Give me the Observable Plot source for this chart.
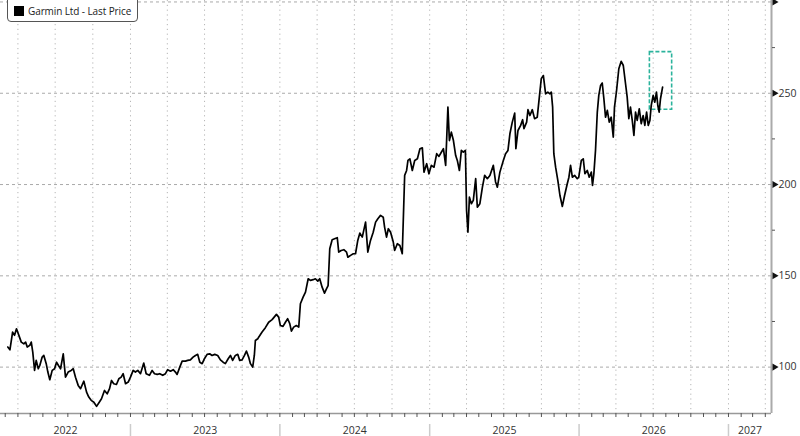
<!DOCTYPE html>
<html>
<head>
<meta charset="utf-8">
<script src="https://cdn.jsdelivr.net/npm/d3@7"></script>
<script src="https://cdn.jsdelivr.net/npm/@observablehq/plot@0.6"></script>
<style>
  body { margin: 0; background: #fff; }
  #chart { position: relative; width: 800px; height: 436px; overflow: hidden; }
  .legend {
    position: absolute; left: 7px; top: -6px; height: 28px;
    box-sizing: border-box; padding: 6px 6px 0 6px;
    border: 1px solid #555; border-radius: 4px; background: #fff;
    display: flex; align-items: center; gap: 4px;
    font: 10px "Open Sans", sans-serif; color: #222; letter-spacing: -0.1px;
  }
  .legend i { display: inline-block; width: 10px; height: 10px; background: #000; }
</style>
</head>
<body>
<div id="chart">
  <div class="legend"><i></i><span>Garmin Ltd - Last Price</span></div>
</div>
<script>
// dates as decimal years
const priceYears = [
  2022.179, 2022.193, 2022.211, 2022.224, 2022.237, 2022.253, 2022.269, 2022.286, 2022.298, 2022.309,
  2022.326, 2022.336, 2022.346, 2022.358, 2022.369, 2022.383, 2022.393, 2022.409, 2022.420, 2022.436,
  2022.447, 2022.460, 2022.476, 2022.492, 2022.505, 2022.518, 2022.532, 2022.550, 2022.565, 2022.583,
  2022.603, 2022.617, 2022.632, 2022.650, 2022.666, 2022.688, 2022.706, 2022.721, 2022.737, 2022.755,
  2022.773, 2022.791, 2022.806, 2022.826, 2022.844, 2022.860, 2022.873, 2022.888, 2022.906, 2022.922,
  2022.938, 2022.951, 2022.967, 2022.985,
  2023.000, 2023.018, 2023.033, 2023.049, 2023.067, 2023.089, 2023.105, 2023.127, 2023.145, 2023.161,
  2023.179, 2023.196, 2023.216, 2023.234, 2023.249, 2023.268, 2023.286, 2023.301, 2023.312, 2023.330,
  2023.346, 2023.368, 2023.383, 2023.401, 2023.419, 2023.435, 2023.450, 2023.464, 2023.480, 2023.495,
  2023.513, 2023.530, 2023.546, 2023.564, 2023.584, 2023.602, 2023.620, 2023.635, 2023.654, 2023.669,
  2023.684, 2023.702, 2023.718, 2023.731, 2023.747, 2023.763, 2023.776, 2023.791, 2023.803, 2023.818,
  2023.829, 2023.836, 2023.852, 2023.858, 2023.881, 2023.903, 2023.925, 2023.948, 2023.977, 2023.992,
  2024.003, 2024.021, 2024.037, 2024.052, 2024.066, 2024.077, 2024.092, 2024.110, 2024.126, 2024.137,
  2024.155, 2024.171, 2024.189, 2024.204, 2024.222, 2024.237, 2024.253, 2024.266, 2024.282, 2024.298,
  2024.311, 2024.322, 2024.333, 2024.349, 2024.365, 2024.383, 2024.393, 2024.409, 2024.427, 2024.445,
  2024.454, 2024.472, 2024.490, 2024.505, 2024.520, 2024.534, 2024.550, 2024.572, 2024.587, 2024.605,
  2024.623, 2024.639, 2024.654, 2024.672, 2024.690, 2024.699, 2024.712, 2024.724, 2024.739, 2024.757,
  2024.766, 2024.784, 2024.801, 2024.817, 2024.833, 2024.846, 2024.855, 2024.868, 2024.884, 2024.900,
  2024.918, 2024.935, 2024.951, 2024.962, 2024.980, 2024.995,
  2025.011, 2025.029, 2025.047, 2025.062, 2025.078, 2025.092, 2025.107, 2025.122, 2025.132, 2025.145,
  2025.159, 2025.174, 2025.185, 2025.199, 2025.212, 2025.225, 2025.239, 2025.247, 2025.256, 2025.266,
  2025.279, 2025.292, 2025.308, 2025.319, 2025.336, 2025.353, 2025.368, 2025.386, 2025.403, 2025.426,
  2025.441, 2025.453, 2025.470, 2025.493, 2025.508, 2025.524, 2025.537, 2025.553, 2025.569, 2025.577,
  2025.591, 2025.609, 2025.622, 2025.631, 2025.649, 2025.658, 2025.671, 2025.687, 2025.702, 2025.720,
  2025.734, 2025.747, 2025.761, 2025.776, 2025.791, 2025.805, 2025.814, 2025.823, 2025.831, 2025.843,
  2025.858, 2025.872, 2025.888, 2025.903, 2025.921, 2025.932, 2025.943, 2025.955, 2025.970, 2025.988,
  2025.998,
  2026.015, 2026.028, 2026.039, 2026.055, 2026.068, 2026.082, 2026.090, 2026.099, 2026.110, 2026.122,
  2026.132, 2026.144, 2026.155, 2026.166, 2026.177, 2026.189, 2026.202, 2026.215, 2026.229, 2026.237,
  2026.251, 2026.266, 2026.282, 2026.296, 2026.311, 2026.322, 2026.333, 2026.344, 2026.356, 2026.367,
  2026.378, 2026.389, 2026.403, 2026.416, 2026.429, 2026.440, 2026.452, 2026.463, 2026.474, 2026.483,
  2026.496, 2026.507, 2026.518, 2026.527, 2026.536, 2026.545, 2026.559
];
const prices = [
  111.0, 109.5, 119.2, 117.4, 121.0, 117.4, 113.7, 112.8, 113.7, 111.0,
  111.9, 113.7, 108.2, 98.2, 103.7, 99.1, 100.9, 105.5, 106.4, 101.9,
  97.3, 93.1, 98.2, 99.1, 102.7, 100.9, 99.1, 107.3, 94.5, 97.3,
  98.2, 99.1, 94.5, 90.0, 88.2, 92.3, 86.3, 83.6, 81.8, 80.8,
  78.5, 80.8, 82.7, 87.2, 85.4, 88.2, 92.7, 90.9, 90.5, 93.6,
  94.5, 96.4, 90.9, 91.8,
  94.5, 98.2, 97.3, 98.2, 96.4, 102.2, 96.4, 95.5, 98.2, 96.4,
  96.0, 96.4, 95.5, 96.4, 98.6, 97.8, 98.6, 97.3, 96.0, 100.0,
  103.3, 103.3, 103.7, 104.0, 105.5, 106.4, 107.0, 102.7, 101.9, 104.6,
  107.0, 107.3, 106.4, 107.0, 106.4, 104.0, 102.7, 101.9, 104.6, 106.4,
  103.7, 106.4, 107.0, 103.7, 104.0, 106.4, 108.8, 105.5, 101.9, 100.0,
  106.4, 114.6, 115.5, 116.4, 119.2, 121.6, 124.6, 126.0, 128.9, 127.4,
  122.8, 122.3, 124.6, 126.5, 123.8, 119.7, 121.9, 122.8, 121.9, 134.7,
  138.3, 141.1, 148.4, 147.5, 147.9, 148.4, 147.1, 148.4, 143.8, 140.5,
  142.9, 144.7, 164.8, 169.8, 170.3, 170.9, 163.0, 163.9, 164.3, 163.0,
  160.2, 161.2, 162.1, 162.1, 169.4, 173.4, 171.2, 179.4, 163.0, 169.4,
  173.9, 179.4, 181.3, 183.1, 182.1, 176.7, 171.2, 175.8, 173.9, 168.5,
  163.9, 167.6, 166.6, 162.1, 205.0, 207.7, 213.2, 214.1, 207.7, 213.2,
  214.1, 219.6, 220.1, 206.8, 211.4, 205.9,
  210.5, 209.5, 216.9, 215.4, 217.7, 219.6, 210.5, 242.4, 224.1, 228.7,
  224.1, 215.9, 213.2, 207.7, 218.7, 217.7, 218.7, 185.8, 173.9, 193.1,
  189.5, 191.3, 203.2, 187.6, 189.5, 198.6, 205.0, 203.2, 205.0, 210.5,
  201.4, 198.6, 206.8, 213.2, 216.9, 218.7, 227.8, 234.2, 239.1, 219.6,
  229.6, 232.4, 235.5, 230.6, 234.2, 241.0, 237.8, 241.0, 236.1, 236.9,
  247.9, 258.0, 259.7, 249.7, 250.6, 249.7, 250.6, 242.4, 216.9, 209.5,
  202.2, 194.0, 188.0, 194.0, 200.4, 204.0, 210.5, 204.0, 205.0, 203.2,
  204.0,
  213.2, 214.1, 205.9, 207.7, 204.0, 206.8, 199.5, 205.9, 218.7, 239.7,
  248.8, 254.3, 255.6, 247.0, 236.9, 240.6, 234.2, 236.9, 226.0, 242.4,
  251.5, 263.4, 267.5, 265.2, 255.2, 247.9, 236.1, 242.4, 235.1, 226.9,
  239.7, 235.1, 241.5, 233.3, 237.8, 232.4, 239.7, 232.4, 235.1, 243.3,
  248.8, 245.1, 250.6, 243.3, 239.7, 247.0, 253.4
];

// dashed teal box at the end of the series
const boxYears = [2026.474, 2026.623];
const boxPrices = [241.0, 272.5];

const majorTicks = [100, 150, 200, 250, 300];
const labelTicks = [100, 150, 200, 250];
const minorTicks = [125, 175, 225, 275];
const xRange = [2022.130, 2027.288];
const yRange = [74.6, 300.8];

const fromYear = t => {
  const y = Math.floor(t);
  const a = Date.UTC(y, 0, 1), b = Date.UTC(y + 1, 0, 1);
  return new Date(a + (t - y) * (b - a));
};

const data = priceYears.map((t, i) => ({date: fromYear(t), price: prices[i]}));
const x0 = fromYear(xRange[0]), x1 = fromYear(xRange[1]);

const months = d3.utcMonth.range(d3.utcMonth.ceil(x0), x1);
const quarters = d3.utcMonth.every(3).range(x0, x1);
const yearStarts = d3.utcYear.range(d3.utcYear.ceil(x0), x1);
const yearMids = d3.utcYear.range(d3.utcYear.floor(x0), x1).map(y => {
  const a = Math.max(+y, +x0), b = Math.min(+d3.utcYear.offset(y, 1), +x1);
  return {date: new Date((a + b) / 2), label: String(y.getUTCFullYear())};
});

const teal = "#2bb39c";

const chart = Plot.plot({
  width: 800,
  height: 436,
  marginLeft: 0,
  marginRight: 29,
  marginTop: 0,
  marginBottom: 23,
  style: {fontFamily: "'Open Sans', sans-serif", fontSize: "10px", color: "#333", background: "white"},
  x: {type: "utc", domain: [x0, x1], axis: null, label: null},
  y: {domain: yRange, axis: null, label: null},
  marks: [
    Plot.ruleX(quarters, {stroke: "#b5b5b5", strokeDasharray: "1.2,3.6"}),
    Plot.ruleY(majorTicks, {stroke: "#aaa", strokeDasharray: "3,3"}),
    Plot.rect([0], {
      x1: () => fromYear(boxYears[0]), x2: () => fromYear(boxYears[1]),
      y1: () => boxPrices[0], y2: () => boxPrices[1],
      fill: "none", stroke: teal, strokeWidth: 1.6, strokeDasharray: "4,2"
    }),
    Plot.lineY(data, {x: "date", y: "price", stroke: "#000", strokeWidth: 1.7}),
    Plot.ruleY([yRange[0]], {stroke: "#999", strokeWidth: 1.5}),
    Plot.ruleX([x1], {stroke: "#aaa", strokeWidth: 2}),
    Plot.axisX({ticks: months, tickSize: 4, text: null, label: null, stroke: "#555"}),
    Plot.axisX({ticks: yearStarts, tickSize: 13, text: null, label: null, stroke: "#ccc", strokeWidth: 1.5, dy: 11}),
    Plot.text(yearMids, {x: "date", text: "label", frameAnchor: "bottom", dy: 20, fill: "#333", fontSize: 10.5}),
    Plot.axisY({anchor: "right", ticks: minorTicks, tickSize: 3, text: null, label: null, stroke: "#555"}),
    Plot.dot(majorTicks, {y: d => d, frameAnchor: "right", symbol: "triangle", r: 2.6, rotate: 90, fill: "#111", dx: 3}),
    Plot.text(labelTicks, {y: d => d, frameAnchor: "right", text: d => String(d), textAnchor: "start", dx: 7, fill: "#333", fontSize: 10.5})
  ]
});

document.getElementById("chart").append(chart);
</script>
</body>
</html>
